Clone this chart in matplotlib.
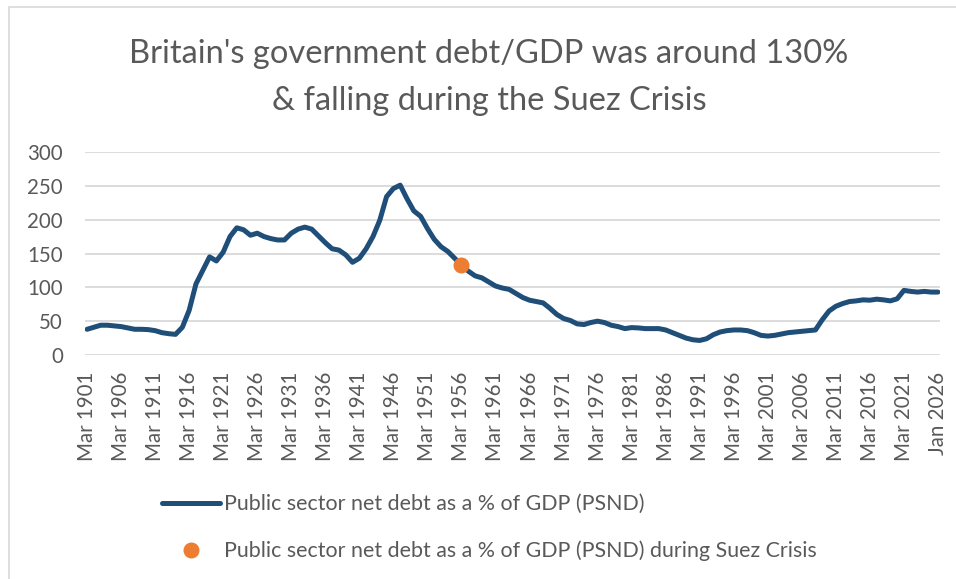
"""Britain's public sector net debt / GDP, 1901-2026, with the Suez Crisis marked."""

import matplotlib
matplotlib.use('Agg')
import matplotlib.pyplot as plt
from matplotlib.patches import Rectangle

plt.rcParams['font.family'] = ['Lato', 'DejaVu Sans']

# Fiscal-year categories as shown on the axis (Mar 1901 ... Mar 2025, then Jan 2026)
periods = [f"Mar {y}" for y in range(1901, 2026)] + ["Jan 2026"]

# PSND as % of GDP
psnd = [
    38, 41, 44, 44, 43, 42, 40, 38, 38, 37.5,            # 1901-1910
    36, 33, 31.5, 30.5, 41, 66, 105, 125, 145, 139,      # 1911-1920
    152, 175, 188, 185, 177, 180, 175, 172, 170, 170,    # 1921-1930
    180, 186, 189, 186, 176, 166, 157, 155, 148, 137,    # 1931-1940
    143, 157, 175, 199, 234, 246, 251, 231, 213, 205,    # 1941-1950
    187, 171, 160, 153, 143, 133, 124, 117, 114, 108,    # 1951-1960
    102, 99, 97, 91, 85, 81, 79, 77, 69, 60,             # 1961-1970
    54, 51, 46, 45, 48, 50, 48, 44, 42, 39,              # 1971-1980
    40.5, 40, 39, 39, 39, 37, 33, 29, 25, 22.5,          # 1981-1990
    21.5, 24, 30, 34, 36, 37, 37, 36, 33, 29,            # 1991-2000
    28, 29, 31, 33, 34, 35, 36, 37, 52, 65,              # 2001-2010
    72, 76, 79, 80, 81.5, 81, 82.5, 81.5, 80, 83,        # 2011-2020
    95.5, 94, 93, 94, 93, 93,                            # 2021-2025, Jan 2026
]

suez_period = "Mar 1956"
suez_value = 133

line_label = "Public sector net debt as a % of GDP (PSND)"
suez_label = "Public sector net debt as a % of GDP (PSND) during Suez Crisis"
title_lines = ["Britain's government debt/GDP was around 130%",
               "& falling during the Suez Crisis"]

NAVY = "#1F4E79"
ORANGE = "#ED7D31"
TEXT_GREY = "#595959"
GRID_GREY = "#D9D9D9"

W, H = 956, 579
fig = plt.figure(figsize=(W / 100, H / 100), dpi=100)

# chart-area border (light grey, runs off the right/bottom edge)
fig.add_artist(Rectangle((9 / W, -0.05), 1.2, 1 - 7 / H + 0.05,
                         transform=fig.transFigure, fill=False,
                         edgecolor=GRID_GREY, linewidth=1.2))

ax = fig.add_axes([85 / W, 1 - 355 / H, (940 - 85) / W, (355 - 152) / H])

x = list(range(len(periods)))
ax.plot(x, psnd, color=NAVY, linewidth=3.6, solid_capstyle='round',
        solid_joinstyle='round', label=line_label, zorder=3)
ax.plot([periods.index(suez_period)], [suez_value], 'o', color=ORANGE,
        markersize=10.5, label=suez_label, zorder=4)

ax.set_xlim(-0.3, len(periods) - 1 + 0.3)
ax.set_ylim(0, 300)
ax.set_yticks(range(0, 301, 50))
tick_idx = list(range(0, len(periods), 5))
ax.set_xticks(tick_idx)
ax.set_xticklabels([periods[i] for i in tick_idx], rotation=90)

ax.grid(axis='y', color=GRID_GREY, linewidth=1.3)
ax.set_axisbelow(True)
for s in ax.spines.values():
    s.set_visible(False)
ax.tick_params(axis='both', length=0, labelsize=14.8, labelcolor=TEXT_GREY)
ax.tick_params(axis='y', pad=16)
ax.tick_params(axis='x', pad=12)

fig.text(489 / W, 1 - 63 / H, title_lines[0], ha='center', va='baseline',
         fontsize=23.5, color=TEXT_GREY)
fig.text(489 / W, 1 - 110 / H, title_lines[1], ha='center', va='baseline',
         fontsize=23.5, color=TEXT_GREY)

leg = ax.legend(loc='upper left', bbox_to_anchor=(162 / W, 1 - 494 / H),
                bbox_transform=fig.transFigure, frameon=False,
                fontsize=15.4, labelcolor=TEXT_GREY, handlelength=2.7,
                handletextpad=0.2, borderpad=0, borderaxespad=0,
                labelspacing=1.25)

fig.savefig("out.png", dpi=100)
